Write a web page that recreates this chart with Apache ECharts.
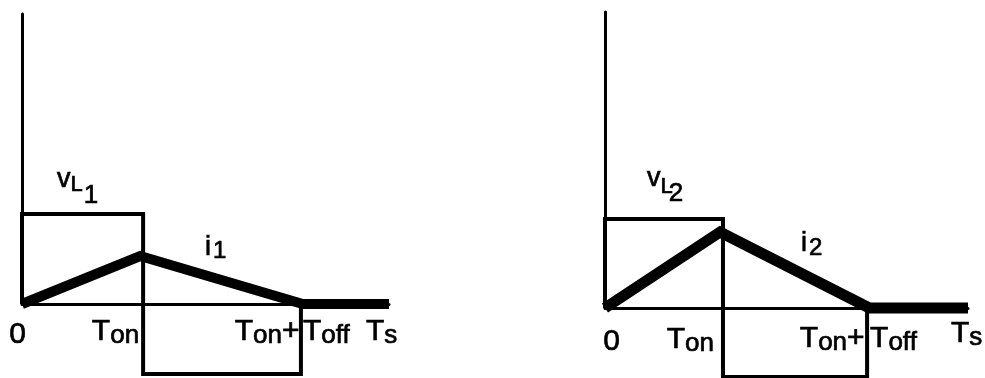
<!DOCTYPE html>
<html><head><meta charset="utf-8">
<script src="https://cdn.jsdelivr.net/npm/echarts@6/dist/echarts.min.js"></script>
<style>html,body{margin:0;padding:0;background:#fff}#c{width:985px;height:378px}</style>
</head><body><div id="c"></div>
<script>
// ---------------- data ----------------
// time axis: 0 .. Ts (Ts = 1)
const tickValues1 = [0, 0.33, 0.76, 1];
const tickValues2 = [0, 0.325, 0.722, 1];
const tickLabels = ['0', 'T_{on}', 'T_{on}+T_{off}', 'T_{s}'];
// top of the vertical axis (in units of the positive inductor voltage)
const axisTop = [3.222, 3.326];
// inductor voltage v_L1 (thin rectangle wave)
const vL1X = [0, 0, 0.33, 0.33, 0.76, 0.76];
const vL1Y = [0, 1, 1, -0.778, -0.778, 0];
// inductor current i_1 (thick triangle)
const i1X = [0, 0.322, 0.765, 1];
const i1Y = [0, 0.533, 0, 0];
// inductor voltage v_L2
const vL2X = [0, 0, 0.325, 0.325, 0.722, 0.722];
const vL2Y = [0, 1, 1, -0.775, -0.775, 0];
// inductor current i_2
const i2X = [0, 0.317, 0.728, 1];
const i2Y = [0, 0.854, 0, 0];
// curve names
const curveNames = ['v_{L}_{1}', 'i_{1}', 'v_{L}_{2}', 'i_{2}'];

// ---------------- layout / style ----------------
const FONT = 'Liberation Sans, Arial, Helvetica, sans-serif';
const zip = (xs, ys) => xs.map((x, k) => [x, ys[k]]);
const grids = [
  {left: 22, top: 14, width: 367, height: 290},
  {left: 605, top: 12, width: 363, height: 296}
];
const thinW = 4, thickW = [10, 11];

function lineSeries(gi, data, width) {
  return {
    type: 'line', xAxisIndex: gi, yAxisIndex: gi, data: data,
    symbol: 'none', silent: true, clip: false, animation: false,
    lineStyle: {color: '#000', width: width, join: 'miter', cap: 'butt'}
  };
}

const axisCommon = {
  axisTick: {show: false}, axisLabel: {show: false}, splitLine: {show: false}
};

const option = {
  backgroundColor: '#fff',
  animation: false,
  grid: grids,
  xAxis: [0, 1].map(gi => Object.assign({
    type: 'value', gridIndex: gi, min: 0, max: 1,
    axisLine: {show: true, onZero: false, lineStyle: {color: '#000', width: 3}}
  }, axisCommon)),
  yAxis: [0, 1].map(gi => Object.assign({
    type: 'value', gridIndex: gi, min: 0, max: axisTop[gi],
    axisLine: {show: true, onZero: false, lineStyle: {color: '#000', width: 3}}
  }, axisCommon)),
  series: [
    lineSeries(0, zip(vL1X, vL1Y), thinW),
    lineSeries(0, zip(i1X, i1Y), thickW[0]),
    lineSeries(1, zip(vL2X, vL2Y), thinW),
    lineSeries(1, zip(i2X, i2Y), thickW[1])
  ]
};

const chart = echarts.init(document.getElementById('c'), null, {renderer: 'canvas'});
chart.setOption(option);

// ---------- text rendering (rich subscripts) ----------
function toRich(str) {
  let out = '', re = /_\{([^}]*)\}|([^_]+)/g, m;
  while ((m = re.exec(str))) {
    if (m[1] !== undefined) out += '{s|' + m[1] + '}';
    else out += '{m|' + m[2] + '}';
  }
  return out;
}
const INK = {fill: '#000', stroke: '#000', lineWidth: 0.7, fontFamily: FONT};
const tickRich = {
  m: Object.assign({fontSize: 30, lineHeight: 30, verticalAlign: 'top'}, INK),
  s: Object.assign({fontSize: 26, lineHeight: 26, verticalAlign: 'top', padding: [6, 0, 0, 0]}, INK)
};
// per panel: align, dx, dy (top of text line relative to baseline)
const tickLayout = [
  [{a: 'center', dx: -4.5, dy: 16}, {a: 'right', dx: -4, dy: 13}, {dxA: -1.5, dxB: 2, dy: 13}, {a: 'left', dx: -23, dy: 13}],
  [{a: 'center', dx: 6.5, dy: 19}, {a: 'right', dx: -9, dy: 17}, {dxA: -2.5, dxB: 3, dy: 16}, {a: 'left', dx: -17, dy: 11}]
];
const graphics = [];
function addText(x, y, text, align, rich) {
  graphics.push({type: 'text', x: x, y: y, silent: true, z: 100,
    style: {text: text, align: align, verticalAlign: 'top', rich: rich, fontFamily: FONT, fill: '#000'}});
}
[tickValues1, tickValues2].forEach((vals, gi) => {
  vals.forEach((v, k) => {
    const p = chart.convertToPixel({gridIndex: gi}, [v, 0]);
    const L = tickLayout[gi][k];
    const label = tickLabels[k];
    if (label.indexOf('+') >= 0) {
      const cut = label.indexOf('+') + 1;
      addText(p[0] + L.dxA, p[1] + L.dy, toRich(label.slice(0, cut)), 'right', tickRich);
      addText(p[0] + L.dxB, p[1] + L.dy, toRich(label.slice(cut)), 'left', tickRich);
    } else {
      addText(p[0] + L.dx, p[1] + L.dy, toRich(label), L.a, tickRich);
    }
  });
});

// curve names: v_{L_1}, i_1, v_{L_2}, i_2
function nameParts(str) {
  const parts = [];
  let re = /_\{([^}]*)\}|([^_]+)/g, m;
  while ((m = re.exec(str))) parts.push(m[1] !== undefined ? m[1] : m[2]);
  return parts;
}
const vRich = (p1, p2, pl) => ({
  a: Object.assign({fontSize: 27, lineHeight: 26, verticalAlign: 'top'}, INK),
  b: Object.assign({fontSize: 22, lineHeight: 22, verticalAlign: 'top', padding: [p1, 0, 0, 0]}, INK),
  c: Object.assign({fontSize: 26, lineHeight: 26, verticalAlign: 'top', padding: [p2, 0, 0, pl]}, INK)
});
const iRich = (p1, pl) => ({
  a: Object.assign({fontSize: 27, lineHeight: 27, verticalAlign: 'top'}, INK),
  c: Object.assign({fontSize: 24, lineHeight: 24, verticalAlign: 'top', padding: [p1, 0, 0, pl]}, INK)
});
const nameLayout = [
  {x: 57, y: 166, rich: vRich(8, 17, 1)},
  {x: 205, y: 234, rich: iRich(5.5, 2)},
  {x: 647, y: 165, rich: vRich(11, 16, -4)},
  {x: 801, y: 230, rich: iRich(6.5, 2)}
];
curveNames.forEach((nm, k) => {
  const parts = nameParts(nm);
  const keys = parts.length === 3 ? ['a', 'b', 'c'] : ['a', 'c'];
  const txt = parts.map((s, j) => '{' + keys[j] + '|' + s + '}').join('');
  const L = nameLayout[k];
  addText(L.x, L.y, txt, 'left', L.rich);
});
chart.setOption({graphic: graphics});
</script></body></html>
